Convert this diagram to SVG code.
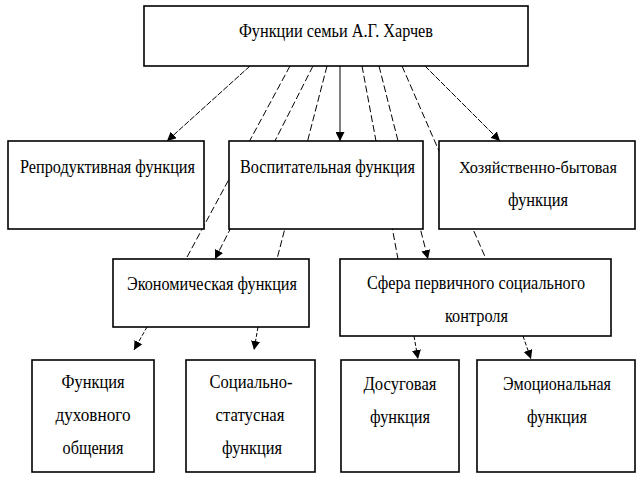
<svg xmlns="http://www.w3.org/2000/svg" width="640" height="480" viewBox="0 0 640 480">
<defs>
<marker id="ah" viewBox="0 0 10 10" refX="10" refY="5" markerWidth="9" markerHeight="9" markerUnits="userSpaceOnUse" orient="auto">
<path d="M0,0 L10,5 L0,10 z" fill="#000"/>
</marker>
<style>
.box{fill:#fff;stroke:#000;stroke-width:1.6}
.t{font-family:"Liberation Serif","Times New Roman",serif;font-size:19px;fill:#000;text-anchor:middle}
.sm{font-size:17px}
.c{fill:none;stroke:#000;stroke-width:1}
.d{stroke-dasharray:7,3}
.f{stroke-dasharray:6,1.5}
.s{stroke-dasharray:4,2}
</style>
</defs>
<rect width="640" height="480" fill="#fff"/>
<g id="connectors">
<line class="c f" x1="250" y1="66" x2="167" y2="141" marker-end="url(#ah)"/>
<line class="c d" x1="290" y1="66" x2="186" y2="259"/>
<line class="c d" x1="313" y1="66" x2="215" y2="259" marker-end="url(#ah)"/>
<line class="c d" x1="327" y1="66" x2="277" y2="259"/>
<line class="c" x1="340" y1="66" x2="340" y2="141" marker-end="url(#ah)"/>
<line class="c d" x1="362" y1="66" x2="398" y2="259"/>
<line class="c d" x1="379" y1="66" x2="428" y2="259" marker-end="url(#ah)"/>
<line class="c d" x1="402" y1="66" x2="486" y2="259"/>
<line class="c f" x1="425" y1="66" x2="500" y2="141" marker-end="url(#ah)"/>
<line class="c s" x1="147" y1="327" x2="134" y2="350" marker-end="url(#ah)"/>
<line class="c s" x1="258" y1="327" x2="254" y2="350" marker-end="url(#ah)"/>
<line class="c s" x1="414" y1="336" x2="418" y2="359" marker-end="url(#ah)"/>
<line class="c s" x1="523" y1="336" x2="531" y2="359" marker-end="url(#ah)"/>
</g>
<g id="root">
<rect class="box" x="144" y="6" width="384" height="60"/>
<text class="t" x="336" y="37" textLength="194" lengthAdjust="spacingAndGlyphs">Функции семьи А.Г. Харчев</text>
</g>
<g id="reproductive">
<rect class="box" x="8" y="141" width="196" height="88"/>
<text class="t" x="107.5" y="173" textLength="175" lengthAdjust="spacingAndGlyphs">Репродуктивная функция</text>
</g>
<g id="educational">
<rect class="box" x="229" y="141" width="194" height="88"/>
<text class="t" x="327.5" y="173" textLength="175" lengthAdjust="spacingAndGlyphs">Воспитательная функция</text>
</g>
<g id="household">
<rect class="box" x="439" y="141" width="196" height="88"/>
<text class="t sm" x="538" y="173" textLength="158" lengthAdjust="spacingAndGlyphs">Хозяйственно-бытовая</text>
<text class="t" x="538" y="206" textLength="60" lengthAdjust="spacingAndGlyphs">функция</text>
</g>
<g id="economic">
<rect class="box" x="113" y="259" width="196" height="68"/>
<text class="t" x="212" y="290" textLength="170" lengthAdjust="spacingAndGlyphs">Экономическая функция</text>
</g>
<g id="social-control">
<rect class="box" x="340" y="259" width="271" height="77"/>
<text class="t" x="476" y="289" textLength="218" lengthAdjust="spacingAndGlyphs">Сфера первичного социального</text>
<text class="t" x="476.5" y="322" textLength="63" lengthAdjust="spacingAndGlyphs">контроля</text>
</g>
<g id="spiritual">
<rect class="box" x="32" y="360" width="122" height="112"/>
<text class="t" x="93" y="388" textLength="63" lengthAdjust="spacingAndGlyphs">Функция</text>
<text class="t" x="93" y="421" textLength="75" lengthAdjust="spacingAndGlyphs">духовного</text>
<text class="t" x="93" y="454" textLength="61" lengthAdjust="spacingAndGlyphs">общения</text>
</g>
<g id="status">
<rect class="box" x="186" y="360" width="129" height="112"/>
<text class="t" x="251" y="388" textLength="83" lengthAdjust="spacingAndGlyphs">Социально-</text>
<text class="t" x="250" y="421" textLength="69" lengthAdjust="spacingAndGlyphs">статусная</text>
<text class="t" x="252" y="454" textLength="60" lengthAdjust="spacingAndGlyphs">функция</text>
</g>
<g id="leisure">
<rect class="box" x="341" y="360" width="118" height="112"/>
<text class="t" x="400" y="390" textLength="73" lengthAdjust="spacingAndGlyphs">Досуговая</text>
<text class="t" x="400" y="423" textLength="60" lengthAdjust="spacingAndGlyphs">функция</text>
</g>
<g id="emotional">
<rect class="box" x="477" y="360" width="158" height="112"/>
<text class="t" x="557" y="390" textLength="108" lengthAdjust="spacingAndGlyphs">Эмоциональная</text>
<text class="t" x="557" y="423" textLength="60" lengthAdjust="spacingAndGlyphs">функция</text>
</g>
</svg>
